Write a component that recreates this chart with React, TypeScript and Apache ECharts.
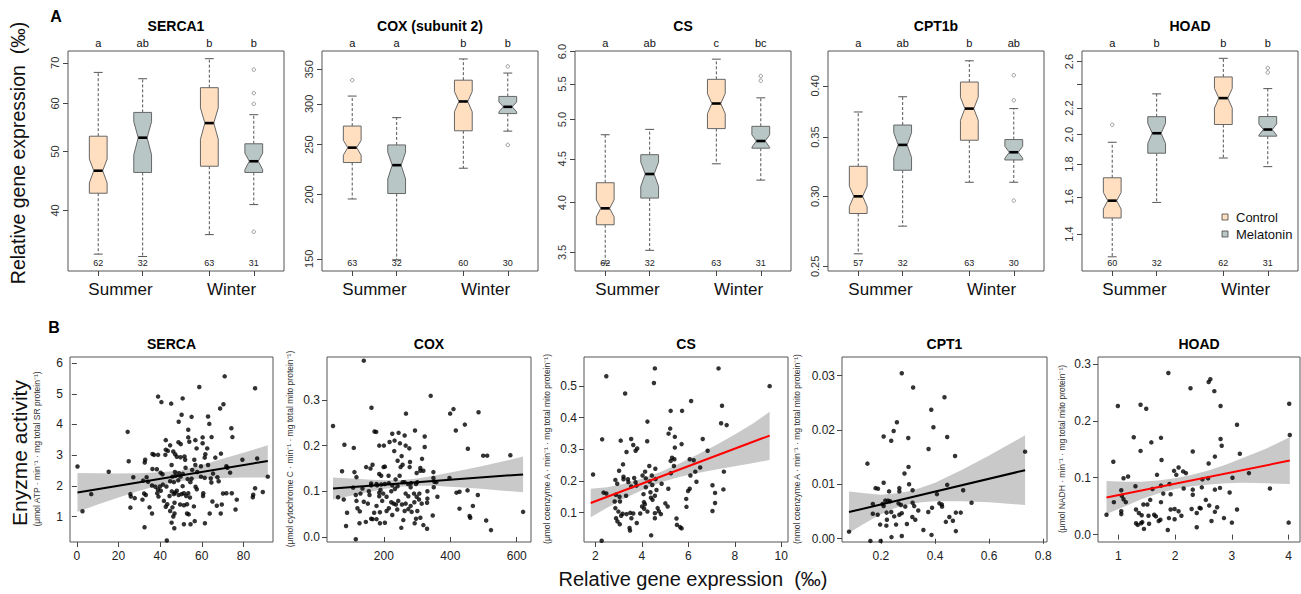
import React, { useEffect, useRef } from "react";
import * as echarts from "echarts";

const FONT = "'Liberation Sans', Arial, Helvetica, sans-serif";
const PEACH = "#FFDFBF";
const GREY = "#B8C6C6";

// ---------------- Panel A : relative gene expression (boxplots) ----------------
const boxPositions = [1, 2, 3.5, 4.5];
const boxTreatment = [0, 1, 0, 1]; // 0 = Control, 1 = Melatonin
const seasonLabels = ["Summer", "Winter"];
const seasonPositions = [1.5, 4];
const treatmentNames = ["Control", "Melatonin"];

const geneTitles = ["SERCA1", "COX (subunit 2)", "CS", "CPT1b", "HOAD"];

// [lower whisker, Q1, median, Q3, upper whisker]
const serca1Stats = [[33.9, 42.7, 46.5, 53.0, 67.5], [33.6, 46.2, 52.7, 58.0, 65.9], [36.5, 47.3, 55.7, 63.7, 71.1], [40.9, 46.2, 48.2, 51.5, 57.5]];
const serca1Notch = [[44.4, 48.6], [49.4, 56.0], [52.4, 59.0], [46.7, 49.7]];
const serca1Outliers = [[], [], [], [68.2, 62.4, 59.9, 36.9]];
const serca1N = [62, 32, 63, 31];
const serca1Letters = ["a", "ab", "b", "b"];
const serca1Ticks = [40, 50, 60, 70];
const serca1Range = [31.8, 73.2];

const cox2Stats = [[196, 230.7, 246.6, 271.6, 310.6], [149.3, 200.8, 228, 249.6, 282], [224.9, 265.9, 303.2, 333.5, 366.7], [265.5, 287.2, 296, 310.1, 344.3]];
const cox2Notch = [[238.4, 254.8], [214.4, 241.6], [289.4, 317], [289.4, 302.6]];
const cox2Outliers = [[333.5], [], [], [354.7, 249.6]];
const cox2N = [63, 32, 60, 30];
const cox2Letters = ["a", "a", "b", "b"];
const cox2Ticks = [150, 200, 250, 300, 350];
const cox2Range = [142, 380];

const csStats = [[3.4, 3.77, 3.94, 4.22, 4.8], [3.52, 4.05, 4.32, 4.55, 4.87], [4.44, 4.88, 5.22, 5.57, 5.88], [4.25, 4.63, 4.72, 4.91, 5.3]];
const csNotch = [[3.85, 4.03], [4.18, 4.46], [5.08, 5.36], [4.64, 4.8]];
const csOutliers = [[], [], [], [5.55, 5.62]];
const csN = [62, 32, 63, 31];
const csLetters = ["a", "ab", "c", "bc"];
const csTicks = [3.5, 4.0, 4.5, 5.0, 5.5, 6.0];
const csRange = [3.33, 6.01];

const cpt1bStats = [[0.2583, 0.2869, 0.3, 0.3244, 0.3737], [0.2776, 0.3211, 0.343, 0.3612, 0.3888], [0.3112, 0.3472, 0.377, 0.404, 0.427], [0.3112, 0.3298, 0.3365, 0.3478, 0.377]];
const cpt1bNotch = [[0.292, 0.308], [0.332, 0.354], [0.3657, 0.3883], [0.3313, 0.3417]];
const cpt1bOutliers = [[], [], [], [0.4112, 0.3852, 0.2967]];
const cpt1bN = [57, 32, 63, 30];
const cpt1bLetters = ["a", "ab", "b", "ab"];
const cpt1bTicks = [0.25, 0.3, 0.35, 0.4];
const cpt1bRange = [0.247, 0.438];

const hoadStats = [[1.29, 1.483, 1.578, 1.713, 1.946], [1.568, 1.871, 2.01, 2.133, 2.315], [1.839, 2.074, 2.28, 2.46, 2.63], [1.783, 1.989, 2.037, 2.134, 2.359]];
const hoadNotch = [[1.531, 1.625], [1.937, 2.083], [2.2, 2.36], [1.996, 2.078]];
const hoadOutliers = [[2.072], [], [], [2.54, 2.5]];
const hoadN = [60, 32, 62, 31];
const hoadLetters = ["a", "b", "b", "b"];
const hoadTicks = [1.4, 1.6, 1.8, 2.0, 2.2, 2.4, 2.6];
const hoadLabelTicks = [1.4, 1.6, 1.8, 2.0, 2.2, 2.6];
const hoadRange = [1.226, 2.7];

// ---------------- Panel B : enzyme activity vs gene expression ----------------
const enzymeTitles = ["SERCA", "COX", "CS", "CPT1", "HOAD"];
const enzymeUnits = [
  "(\u03bcmol ATP \u00b7 min\u207b\u00b9 \u00b7 mg total SR protein\u207b\u00b9)",
  "(\u03bcmol cytochrome C \u00b7 min\u207b\u00b9 \u00b7 mg total mito protein\u207b\u00b9)",
  "(\u03bcmol coenzyme A \u00b7 min\u207b\u00b9 \u00b7 mg total mito protein\u207b\u00b9)",
  "(nmol coenzyme A \u00b7 min\u207b\u00b9 \u00b7 mg total mito protein\u207b\u00b9)",
  "(\u03bcmol NADH \u00b7 min\u207b\u00b9 \u00b7 mg total mito protein\u207b\u00b9)",
];

const sercaPoints = [[71,5.57],[85.6,5.18],[58.8,5.22],[39,4.91],[50.8,4.85],[40.6,4.73],[45.3,4.68],[70.4,4.66],[68.8,4.52],[50.3,4.32],[48.9,4.09],[55.1,4.25],[63,4.26],[63.6,4.02],[24.4,3.76],[53.5,3.83],[74.2,3.88],[74.7,3.59],[53.5,3.58],[60.4,3.58],[64.7,3.59],[42.7,3.49],[48.8,3.42],[49.9,3.36],[56.9,3.49],[54,3.44],[60.4,3.39],[44.8,3.32],[42.7,3.18],[43.7,3.14],[46.3,3.12],[57.5,3.22],[62.6,3.22],[37.1,3.01],[36.3,3.04],[39,3.01],[42.5,3.01],[47.2,3.03],[48,2.95],[49.8,2.93],[51.7,2.96],[52,2.85],[56.4,2.85],[56.9,2.68],[61.4,2.92],[61.7,3.03],[66.5,2.92],[69.2,3.05],[79.5,2.85],[86.6,2.89],[24.9,2.8],[32.8,2.85],[32.6,2.76],[45.5,2.68],[52.2,2.59],[36.3,2.55],[38.4,2.54],[40.2,2.43],[41.1,2.38],[47.1,2.45],[49,2.41],[50.9,2.39],[55.4,2.52],[57.8,2.45],[59.6,2.64],[63,2.68],[65.4,2.4],[71.8,2.64],[72.3,2.59],[73.6,2.43],[0.3,2.63],[15.3,2.46],[27.1,2.28],[33.5,2.28],[31.8,2.17],[34.2,2.13],[36.1,2.01],[37.7,1.97],[38.9,1.88],[39.9,1.98],[41.3,2.04],[43,1.98],[44.8,2.15],[45.9,2.3],[47.4,2.33],[46.6,2.12],[48.7,2.18],[49.8,2.3],[50.8,1.99],[53.2,2.22],[54.5,2.12],[55.1,2.23],[57,1.97],[57.6,1.89],[59.6,2.3],[61.4,2.26],[64.3,2.24],[67.5,2.28],[64.6,2.11],[68.1,2.15],[91.7,2.3],[85.6,1.92],[25.7,1.73],[25.9,1.65],[27.8,1.6],[31.5,1.55],[32.3,1.75],[33.1,1.7],[38.6,1.76],[39.2,1.65],[40.3,1.84],[41.8,1.51],[43.4,1.4],[44.5,1.67],[45.6,1.82],[46.6,1.73],[47.2,1.78],[48,1.84],[46.9,1.45],[48.9,1.7],[50.3,1.73],[51.4,1.76],[52.5,1.67],[53.5,1.76],[54.3,1.62],[49.6,1.39],[51.4,1.37],[52.9,1.4],[56.2,1.33],[60.7,1.76],[60.6,1.67],[65.1,1.49],[67.2,1.35],[69.6,1.39],[70.2,1.75],[71.8,1.76],[76.8,1.55],[84.5,1.63],[84.7,1.71],[89.3,1.8],[2.7,1.17],[6.9,1.73],[25.7,1.29],[34.9,1.3],[36.1,1.1],[42.7,1.32],[44.8,1.18],[45.9,1.3],[46.9,1.1],[46.3,1.0],[52.9,1.1],[53.7,1.07],[63.8,1.1],[69.1,1.1],[76.2,1.23],[32.5,0.65],[45.5,0.8],[46.8,0.62],[51.4,0.75],[54.6,0.75],[56.6,0.85],[61.5,0.78],[43.2,0.22],[74.4,1.76]];

const coxPoints = [[139.5,0.386],[341,0.309],[46.8,0.243],[162.7,0.283],[266.5,0.27],[399.5,0.27],[409.6,0.28],[485,0.273],[416.6,0.233],[443.8,0.246],[171.8,0.231],[176.8,0.23],[81.1,0.202],[109.3,0.195],[186,0.2],[200,0.2],[225.2,0.226],[244.3,0.228],[262.5,0.222],[232.2,0.211],[217.1,0.208],[248.4,0.205],[293.7,0.233],[322.9,0.22],[265.5,0.2],[276.6,0.194],[322.9,0.197],[231.2,0.188],[452.9,0.193],[499,0.178],[511,0.178],[580.9,0.179],[253.4,0.177],[241.3,0.167],[314.9,0.171],[146.6,0.153],[159.7,0.15],[165.8,0.158],[199,0.153],[203,0.154],[250.4,0.153],[256.4,0.158],[278.6,0.164],[277.6,0.153],[309.8,0.151],[309.8,0.145],[74,0.144],[111.3,0.142],[117.4,0.131],[186,0.138],[192,0.134],[214,0.134],[235.3,0.126],[247.4,0.134],[298.7,0.14],[318.9,0.145],[349.1,0.142],[349.1,0.129],[352,0.121],[358,0.12],[161.7,0.117],[161.7,0.113],[177.8,0.116],[179.8,0.113],[192,0.115],[203,0.116],[215,0.118],[225.2,0.113],[241.3,0.111],[256.4,0.12],[262.5,0.12],[272.6,0.116],[281.6,0.118],[296.7,0.116],[300.7,0.12],[280.6,0.109],[350.1,0.109],[397.5,0.129],[107.3,0.108],[135.5,0.106],[189.9,0.103],[154.7,0.1],[186,0.097],[222.2,0.1],[233.2,0.105],[62,0.087],[79.1,0.082],[115.4,0.092],[129.5,0.095],[156.7,0.092],[186,0.089],[198,0.095],[208.1,0.088],[265.5,0.095],[273.6,0.089],[290.7,0.095],[298.7,0.088],[306.8,0.095],[331,0.1],[361.2,0.088],[418.6,0.097],[427.7,0.099],[451.9,0.102],[482.9,0.092],[117.4,0.079],[139.5,0.077],[151.7,0.073],[177.8,0.068],[194.9,0.079],[222.2,0.076],[229.3,0.073],[236.2,0.071],[243.3,0.079],[254.4,0.071],[265.5,0.073],[280.6,0.068],[291.7,0.076],[305.8,0.082],[313.9,0.073],[331,0.084],[330,0.075],[427.7,0.062],[468,0.068],[89.1,0.053],[120.4,0.063],[127.5,0.056],[170.7,0.053],[188,0.054],[208.1,0.057],[214.9,0.063],[240.3,0.06],[262.5,0.057],[273.6,0.061],[283.6,0.055],[300.7,0.057],[309.8,0.042],[296.7,0.04],[347.1,0.047],[458,0.046],[460,0.042],[508,0.036],[619.2,0.055],[161.7,0.04],[165.8,0.039],[177.8,0.039],[145.6,0.033],[126.5,0.03],[188,0.03],[203,0.031],[225.2,0.048],[258.5,0.037],[292.7,0.03],[318.9,0.026],[252.4,0.02],[330,0.018],[86.1,0.024],[522.5,0.015],[115.4,-0.005]];

const csPoints = [[1.9,0.22],[2.47,0.53],[2.29,0.331],[3.28,0.476],[2.35,0.163],[2.47,0.16],[2.27,0.011],[4.56,0.555],[4.52,0.509],[7.3,0.555],[9.5,0.499],[7.45,0.437],[6.12,0.452],[5.24,0.421],[5.73,0.421],[4.24,0.387],[5.22,0.365],[7.41,0.382],[7.65,0.376],[5.15,0.349],[3.09,0.327],[3.54,0.332],[3.63,0.313],[3.34,0.291],[3.8,0.302],[3.73,0.295],[4.23,0.325],[5.42,0.339],[5.71,0.316],[6.62,0.332],[6.83,0.295],[5.42,0.305],[5.3,0.273],[5.4,0.268],[6.06,0.268],[6.23,0.265],[5.24,0.263],[3.19,0.252],[3.02,0.232],[4.32,0.247],[6.51,0.242],[6.3,0.229],[7.53,0.229],[5.38,0.247],[5.25,0.224],[6.09,0.217],[6.35,0.197],[3.21,0.213],[2.86,0.203],[2.94,0.191],[3.21,0.205],[3.4,0.205],[3.42,0.196],[3.67,0.209],[3.73,0.196],[3.54,0.182],[3.32,0.153],[3.77,0.185],[4.14,0.229],[4.03,0.217],[4.17,0.208],[4.43,0.217],[4.58,0.238],[4.59,0.206],[4.33,0.198],[4.17,0.18],[4.37,0.164],[4.07,0.158],[4.56,0.153],[4.85,0.191],[5.14,0.175],[4.63,0.171],[4.45,0.187],[4.39,0.147],[4.46,0.14],[4.09,0.133],[4.13,0.126],[4.01,0.119],[4.1,0.112],[4.24,0.103],[4.56,0.098],[4.68,0.114],[4.73,0.104],[4.82,0.095],[4.56,0.082],[5.01,0.129],[5.11,0.119],[2.88,0.156],[3.04,0.15],[2.83,0.135],[3.06,0.135],[2.86,0.114],[2.99,0.103],[3.17,0.096],[2.89,0.082],[2.95,0.072],[3.05,0.063],[3.11,0.09],[3.34,0.095],[3.5,0.099],[3.55,0.082],[3.47,0.051],[3.49,0.043],[3.63,0.097],[3.78,0.067],[3.93,0.097],[4.4,0.028],[5.51,0.061],[5.65,0.054],[5.71,0.05],[5.49,0.081],[5.91,0.143],[5.92,0.118],[6.06,0.175],[5.99,0.168],[7.04,0.186],[7.15,0.162],[7.51,0.173],[7.04,0.105],[7.15,0.13]];

const cpt1Points = [[0.082,0.0013],[0.161,-0.0004],[0.199,-0.0004],[0.15,0.0138],[0.277,0.0304],[0.319,0.0278],[0.435,0.026],[0.386,0.0237],[0.259,0.0214],[0.247,0.0198],[0.21,0.0188],[0.238,0.018],[0.301,0.0185],[0.394,0.0205],[0.445,0.0187],[0.376,0.0165],[0.474,0.0152],[0.302,0.0132],[0.287,0.012],[0.733,0.016],[0.21,0.0103],[0.18,0.0093],[0.189,0.0092],[0.23,0.0087],[0.268,0.0093],[0.268,0.0087],[0.317,0.0089],[0.304,0.01],[0.445,0.0099],[0.504,0.0089],[0.407,0.0082],[0.17,0.0064],[0.206,0.0064],[0.216,0.007],[0.226,0.007],[0.234,0.0069],[0.21,0.006],[0.238,0.0049],[0.221,0.0048],[0.265,0.0065],[0.274,0.0062],[0.29,0.0059],[0.277,0.0047],[0.249,0.0041],[0.268,0.0044],[0.317,0.0066],[0.323,0.006],[0.338,0.0052],[0.316,0.004],[0.327,0.0035],[0.389,0.0057],[0.375,0.0049],[0.416,0.0065],[0.425,0.0063],[0.426,0.0059],[0.44,0.0031],[0.453,0.004],[0.466,0.0033],[0.477,0.0048],[0.495,0.0048],[0.535,0.0066],[0.17,0.0046],[0.188,0.0044],[0.197,0.0026],[0.22,0.0024],[0.222,0.0035],[0.256,0.0026],[0.296,0.0027],[0.239,0.0003],[0.277,0.0005],[0.357,0.0016],[0.387,0.0007],[0.477,0.0014]];

const hoadPoints = [[0.79,0.035],[0.91,0.128],[0.92,0.057],[0.99,0.226],[1.05,0.078],[1.06,0.068],[1.05,0.041],[1.05,0.036],[1.09,0.099],[1.09,0.062],[1.13,0.057],[1.17,0.102],[1.27,0.171],[1.3,0.085],[1.31,0.044],[1.31,0.02],[1.34,0.017],[1.39,0.228],[1.49,0.221],[1.39,0.147],[1.36,0.038],[1.41,0.034],[1.42,0.022],[1.4,0.02],[1.44,0.053],[1.51,0.053],[1.45,0.01],[1.53,0.033],[1.56,0.061],[1.58,0.162],[1.63,0.035],[1.66,0.032],[1.54,0.019],[1.6,0.08],[1.68,0.105],[1.71,0.024],[1.74,0.026],[1.75,0.17],[1.76,0.131],[1.75,0.086],[1.75,0.057],[1.79,0.072],[1.87,0.008],[1.88,0.284],[1.9,0.089],[1.92,0.071],[1.92,0.044],[1.89,0.029],[1.98,0.112],[2.02,0.105],[1.99,0.045],[1.99,0.027],[2.06,0.118],[2.06,0.041],[2.11,0.033],[2.14,0.111],[2.15,0.081],[2.19,0.108],[2.27,0.257],[2.31,0.146],[2.31,0.079],[2.31,0.07],[2.29,0.045],[2.38,0.038],[2.38,0.013],[2.43,0.047],[2.45,0.046],[2.47,0.083],[2.48,0.097],[2.58,0.099],[2.54,0.061],[2.59,0.125],[2.59,0.268],[2.62,0.273],[2.6,0.051],[2.64,0.024],[2.69,0.252],[2.7,0.137],[2.7,0.079],[2.7,0.04],[2.74,0.048],[2.8,0.226],[2.8,0.168],[2.79,0.082],[2.82,0.156],[2.86,0.029],[2.96,0.074],[3.01,0.1],[3.0,0.021],[3.09,0.193],[3.09,0.044],[3.14,0.142],[3.3,0.108],[3.67,0.081],[4.01,0.23],[4.02,0.175],[4.0,0.021]];

// fitted lines [[x0,y0],[x1,y1]] and confidence bands
const sercaFit = [[0.3, 1.78], [91.7, 2.81]];
const sercaBandX = [0.3, 10, 20, 30, 40, 50, 60, 70, 80, 91.7];
const sercaBandLo = [1.15, 1.39, 1.62, 1.84, 2.03, 2.16, 2.24, 2.26, 2.27, 2.27];
const sercaBandHi = [2.42, 2.41, 2.4, 2.41, 2.44, 2.5, 2.68, 2.88, 3.08, 3.32];

const coxFit = [[46.8, 0.106], [619.2, 0.137]];
const coxBandX = [46.8, 100, 150, 200, 250, 300, 350, 400, 450, 500, 550, 619.2];
const coxBandLo = [0.082, 0.09, 0.098, 0.105, 0.11, 0.112, 0.112, 0.11, 0.108, 0.105, 0.102, 0.098];
const coxBandHi = [0.13, 0.128, 0.126, 0.124, 0.124, 0.128, 0.134, 0.141, 0.148, 0.156, 0.164, 0.176];

const csFit = [[1.8, 0.13], [9.5, 0.343]];
const csBandX = [1.8, 2.5, 3.2, 4, 4.8, 5.6, 6.4, 7.2, 8, 8.8, 9.5];
const csBandLo = [0.085, 0.115, 0.143, 0.17, 0.195, 0.212, 0.225, 0.236, 0.246, 0.256, 0.266];
const csBandHi = [0.175, 0.18, 0.19, 0.207, 0.228, 0.254, 0.283, 0.313, 0.346, 0.382, 0.418];

const cpt1Fit = [[0.082, 0.0049], [0.733, 0.0126]];
const cpt1BandX = [0.082, 0.15, 0.2, 0.25, 0.3, 0.35, 0.4, 0.5, 0.6, 0.733];
const cpt1BandLo = [0.0011, 0.0031, 0.0045, 0.0056, 0.0063, 0.0067, 0.0069, 0.0069, 0.0067, 0.0062];
const cpt1BandHi = [0.0087, 0.0083, 0.0081, 0.0083, 0.0087, 0.0094, 0.0103, 0.0127, 0.0153, 0.019];

const hoadFit = [[0.79, 0.065], [4.02, 0.13]];
const hoadBandX = [0.79, 1.1, 1.4, 1.7, 2.0, 2.3, 2.6, 2.9, 3.2, 3.6, 4.02];
const hoadBandLo = [0.036, 0.049, 0.062, 0.072, 0.08, 0.085, 0.088, 0.09, 0.091, 0.09, 0.089];
const hoadBandHi = [0.094, 0.093, 0.093, 0.095, 0.099, 0.105, 0.113, 0.123, 0.135, 0.151, 0.171];

const fitColors = ["#000000", "#000000", "#FF0000", "#000000", "#FF0000"];

const sercaXTicks = [0, 20, 40, 60, 80];
const sercaYTicks = [1, 2, 3, 4, 5, 6];
const coxXTicks = [200, 400, 600];
const coxYTicks = [0, 0.1, 0.2, 0.3];
const csXTicks = [2, 4, 6, 8, 10];
const csYTicks = [0.1, 0.2, 0.3, 0.4, 0.5];
const cpt1XTicks = [0.2, 0.4, 0.6, 0.8];
const cpt1YTicks = [0, 0.01, 0.02, 0.03];
const hoadXTicks = [1, 2, 3, 4];
const hoadYTicks = [0, 0.1, 0.2, 0.3];

export default function App() {
  const ref = useRef<HTMLDivElement>(null);

  useEffect(() => {
    if (!ref.current) return;
    const chart = echarts.init(ref.current, null, { renderer: "svg" });

    const topPanels = [
      { stats: serca1Stats, notch: serca1Notch, out: serca1Outliers, n: serca1N, letters: serca1Letters, ticks: serca1Ticks, labelTicks: serca1Ticks, dec: 0, range: serca1Range },
      { stats: cox2Stats, notch: cox2Notch, out: cox2Outliers, n: cox2N, letters: cox2Letters, ticks: cox2Ticks, labelTicks: cox2Ticks, dec: 0, range: cox2Range },
      { stats: csStats, notch: csNotch, out: csOutliers, n: csN, letters: csLetters, ticks: csTicks, labelTicks: csTicks, dec: 1, range: csRange },
      { stats: cpt1bStats, notch: cpt1bNotch, out: cpt1bOutliers, n: cpt1bN, letters: cpt1bLetters, ticks: cpt1bTicks, labelTicks: cpt1bTicks, dec: 2, range: cpt1bRange },
      { stats: hoadStats, notch: hoadNotch, out: hoadOutliers, n: hoadN, letters: hoadLetters, ticks: hoadTicks, labelTicks: hoadLabelTicks, dec: 1, range: hoadRange },
    ];
    const topLefts = [68, 322, 575, 828, 1082];

    const bottomPanels = [
      { pts: sercaPoints, fit: sercaFit, bx: sercaBandX, blo: sercaBandLo, bhi: sercaBandHi, xr: [-3.3, 94.2], yr: [0.17, 6.2], xt: sercaXTicks, yt: sercaYTicks, xd: 0, yd: 0 },
      { pts: coxPoints, fit: coxFit, bx: coxBandX, blo: coxBandLo, bhi: coxBandHi, xr: [28.7, 643], yr: [-0.011, 0.394], xt: coxXTicks, yt: coxYTicks, xd: 0, yd: 1 },
      { pts: csPoints, fit: csFit, bx: csBandX, blo: csBandLo, bhi: csBandHi, xr: [1.51, 10.29], yr: [0.007, 0.591], xt: csXTicks, yt: csYTicks, xd: 0, yd: 1 },
      { pts: cpt1Points, fit: cpt1Fit, bx: cpt1BandX, blo: cpt1BandLo, bhi: cpt1BandHi, xr: [0.056, 0.814], yr: [-0.0006, 0.0334], xt: cpt1XTicks, yt: cpt1YTicks, xd: 1, yd: 2 },
      { pts: hoadPoints, fit: hoadFit, bx: hoadBandX, blo: hoadBandLo, bhi: hoadBandHi, xr: [0.64, 4.2], yr: [-0.013, 0.312], xt: hoadXTicks, yt: hoadYTicks, xd: 0, yd: 1 },
    ];
    const bottomLefts = [70, 327, 584, 842, 1098];
    const bottomWidths = [203, 204, 204, 205, 202];

    const grids: any[] = [];
    const xAxes: any[] = [];
    const yAxes: any[] = [];
    const series: any[] = [];
    const graphics: any[] = [];

    const LN = Math.log;

    topPanels.forEach((p, i) => {
      grids.push({ left: topLefts[i], top: 51, width: 216, height: 220, show: true, borderColor: "#555", borderWidth: 1, backgroundColor: "transparent" });
      xAxes.push({
        gridIndex: i, type: "value", min: 0.32, max: 5.18,
        axisLine: { show: false }, splitLine: { show: false },
        axisTick: { show: true, customValues: boxPositions, length: 5, lineStyle: { color: "#444" } },
        axisLabel: {
          customValues: seasonPositions, margin: 10, fontSize: 17, color: "#111", fontFamily: FONT,
          formatter: (v: number) => (v < 2.75 ? seasonLabels[0] : seasonLabels[1]),
        },
      });
      yAxes.push({
        gridIndex: i, type: "value", min: LN(p.range[0]), max: LN(p.range[1]),
        axisLine: { show: false }, splitLine: { show: false },
        axisTick: { show: true, customValues: p.ticks.map(LN), length: 5, lineStyle: { color: "#444" } },
        axisLabel: {
          customValues: p.labelTicks.map(LN), rotate: 90, margin: 8, fontSize: 11, color: "#333", fontFamily: FONT,
          formatter: (v: number) => Math.exp(v).toFixed(p.dec),
        },
      });
      // notched boxes
      series.push({
        type: "custom", xAxisIndex: i, yAxisIndex: i, z: 3,
        data: p.stats.map((s, k) => [boxPositions[k], ...s.map(LN), LN(p.notch[k][0]), LN(p.notch[k][1]), boxTreatment[k]]),
        renderItem: (params: any, api: any) => {
          const x = api.value(0);
          const c = (j: number) => api.coord([x, api.value(j)]);
          const low = c(1), q1 = c(2), med = c(3), q3 = c(4), high = c(5), nlo = c(6), nhi = c(7);
          const hw = api.size([0.4, 0])[0] / 2;
          const cx = low[0];
          const fill = api.value(8) === 0 ? PEACH : GREY;
          const dash = { stroke: "#555", lineWidth: 1, lineDash: [3, 2] };
          const solid = { stroke: "#555", lineWidth: 1 };
          return {
            type: "group",
            children: [
              { type: "line", shape: { x1: cx, y1: q3[1], x2: cx, y2: high[1] }, style: dash },
              { type: "line", shape: { x1: cx, y1: q1[1], x2: cx, y2: low[1] }, style: dash },
              { type: "line", shape: { x1: cx - hw / 2, y1: high[1], x2: cx + hw / 2, y2: high[1] }, style: solid },
              { type: "line", shape: { x1: cx - hw / 2, y1: low[1], x2: cx + hw / 2, y2: low[1] }, style: solid },
              {
                type: "polygon",
                shape: {
                  points: [
                    [cx - hw, q3[1]], [cx + hw, q3[1]], [cx + hw, nhi[1]], [cx + hw / 2, med[1]], [cx + hw, nlo[1]],
                    [cx + hw, q1[1]], [cx - hw, q1[1]], [cx - hw, nlo[1]], [cx - hw / 2, med[1]], [cx - hw, nhi[1]],
                  ],
                },
                style: { fill, stroke: "#666", lineWidth: 1 },
              },
              { type: "line", shape: { x1: cx - hw / 2, y1: med[1], x2: cx + hw / 2, y2: med[1] }, style: { stroke: "#000", lineWidth: 2.6 } },
            ],
          };
        },
      });
      // outliers
      const outData: number[][] = [];
      p.out.forEach((arr, k) => arr.forEach((v) => outData.push([boxPositions[k], LN(v)])));
      series.push({
        type: "scatter", xAxisIndex: i, yAxisIndex: i, z: 4, symbol: "circle", symbolSize: 3.5,
        itemStyle: { color: "#fff", borderColor: "#666", borderWidth: 0.8 }, data: outData,
      });
      // letters and sample sizes
      series.push({
        type: "custom", xAxisIndex: i, yAxisIndex: i, z: 5,
        data: boxPositions.map((pos) => [pos, LN(p.range[0])]),
        renderItem: (params: any, api: any) => {
          const k = params.dataIndex;
          const pt = api.coord([api.value(0), api.value(1)]);
          const cs = params.coordSys;
          return {
            type: "group",
            children: [
              { type: "text", x: pt[0], y: cs.y - 8, style: { text: p.letters[k], align: "center", verticalAlign: "middle", fontSize: 11, fill: "#111", fontFamily: FONT } },
              { type: "text", x: pt[0], y: cs.y + cs.height - 8, style: { text: String(p.n[k]), align: "center", verticalAlign: "middle", fontSize: 9, fill: "#222", fontFamily: FONT } },
            ],
          };
        },
      });
      graphics.push({
        type: "text", x: topLefts[i] + 108, y: 26,
        style: { text: geneTitles[i], align: "center", verticalAlign: "middle", fontSize: 14, fontWeight: "bold", fill: "#000", fontFamily: FONT },
      });
    });

    bottomPanels.forEach((p, j) => {
      const gi = 5 + j;
      grids.push({ left: bottomLefts[j], top: 357, width: bottomWidths[j], height: 185, show: true, borderColor: "#555", borderWidth: 1, backgroundColor: "transparent" });
      xAxes.push({
        gridIndex: gi, type: "value", min: p.xr[0], max: p.xr[1],
        axisLine: { show: false }, splitLine: { show: false },
        axisTick: { show: true, customValues: p.xt, length: 5, lineStyle: { color: "#444" } },
        axisLabel: { customValues: p.xt, margin: 8, fontSize: 12, color: "#222", fontFamily: FONT, formatter: (v: number) => v.toFixed(p.xd) },
      });
      yAxes.push({
        gridIndex: gi, type: "value", min: p.yr[0], max: p.yr[1],
        axisLine: { show: false }, splitLine: { show: false },
        axisTick: { show: true, customValues: p.yt, length: 5, lineStyle: { color: "#444" } },
        axisLabel: { customValues: p.yt, margin: 7, fontSize: 12, color: "#222", fontFamily: FONT, formatter: (v: number) => v.toFixed(p.yd) },
      });
      series.push({
        type: "custom", xAxisIndex: gi, yAxisIndex: gi, z: 1, data: [[p.bx[0], p.blo[0]]],
        renderItem: (params: any, api: any) => {
          const upper = p.bx.map((x, k) => api.coord([x, p.bhi[k]]));
          const lower = p.bx.map((x, k) => api.coord([x, p.blo[k]])).reverse();
          return { type: "polygon", shape: { points: upper.concat(lower) }, style: { fill: "#C9C9C9", stroke: "none" } };
        },
      });
      series.push({
        type: "scatter", xAxisIndex: gi, yAxisIndex: gi, z: 2, symbol: "circle", symbolSize: 4.5,
        itemStyle: { color: "#000" }, data: p.pts,
      });
      series.push({
        type: "line", xAxisIndex: gi, yAxisIndex: gi, z: 3, symbol: "none", data: p.fit,
        lineStyle: { color: fitColors[j], width: 2 },
      });
      graphics.push({
        type: "text", x: bottomLefts[j] + bottomWidths[j] / 2, y: 344,
        style: { text: enzymeTitles[j], align: "center", verticalAlign: "middle", fontSize: 14, fontWeight: "bold", fill: "#000", fontFamily: FONT },
      });
    });

    const unitX = [37, 290, 547, 797, 1062];
    enzymeUnits.forEach((t, j) => {
      graphics.push({
        type: "text", x: unitX[j], y: 449, rotation: Math.PI / 2,
        style: { text: t, align: "center", verticalAlign: "middle", fontSize: 8.5, fill: "#333", fontFamily: FONT },
      });
    });

    graphics.push(
      { type: "text", x: 56, y: 16, style: { text: "A", align: "center", verticalAlign: "middle", fontSize: 16, fontWeight: "bold", fill: "#000", fontFamily: FONT } },
      { type: "text", x: 54, y: 327, style: { text: "B", align: "center", verticalAlign: "middle", fontSize: 16, fontWeight: "bold", fill: "#000", fontFamily: FONT } },
      { type: "text", x: 18, y: 153, rotation: Math.PI / 2, style: { text: "Relative gene expression  (\u2030)", align: "center", verticalAlign: "middle", fontSize: 19.5, fill: "#111", fontFamily: FONT } },
      { type: "text", x: 19, y: 453, rotation: Math.PI / 2, style: { text: "Enyzme activity", align: "center", verticalAlign: "middle", fontSize: 21, fill: "#111", fontFamily: FONT } },
      { type: "text", x: 693, y: 579, style: { text: "Relative gene expression  (\u2030)", align: "center", verticalAlign: "middle", fontSize: 20, fill: "#111", fontFamily: FONT } },
      { type: "rect", shape: { x: 1222, y: 214, width: 6, height: 6 }, style: { fill: PEACH, stroke: "#444", lineWidth: 0.8 } },
      { type: "rect", shape: { x: 1222, y: 231, width: 6, height: 6 }, style: { fill: GREY, stroke: "#444", lineWidth: 0.8 } },
      { type: "text", x: 1236, y: 217, style: { text: treatmentNames[0], align: "left", verticalAlign: "middle", fontSize: 13, fill: "#111", fontFamily: FONT } },
      { type: "text", x: 1236, y: 234, style: { text: treatmentNames[1], align: "left", verticalAlign: "middle", fontSize: 13, fill: "#111", fontFamily: FONT } },
    );

    chart.setOption({
      animation: false,
      backgroundColor: "#fff",
      textStyle: { fontFamily: FONT },
      grid: grids,
      xAxis: xAxes,
      yAxis: yAxes,
      series,
      graphic: graphics,
    });
    return () => chart.dispose();
  }, []);

  return <div ref={ref} style={{ position: "fixed", left: 0, top: 0, width: 1301, height: 594, background: "#fff" }} />;
}
